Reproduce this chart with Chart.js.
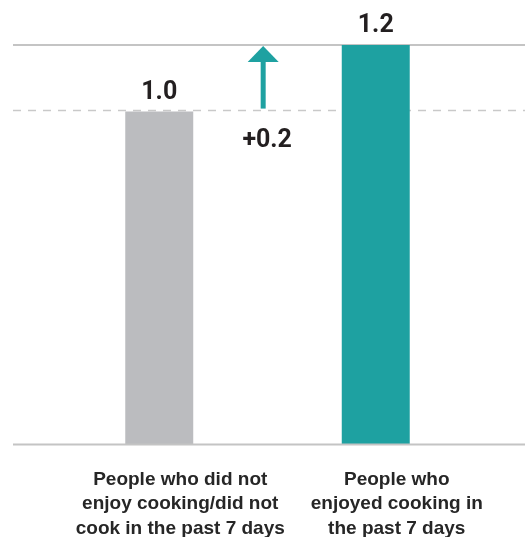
<!DOCTYPE html>
<html>
<head>
<meta charset="utf-8">
<script src="https://cdn.jsdelivr.net/npm/chart.js@4/dist/chart.umd.min.js"></script>
<style>
html,body{margin:0;padding:0;background:#fff;}
#wrap{width:525px;height:537px;position:relative;}
</style>
</head>
<body>
<div id="wrap"><canvas id="c"></canvas></div>
<script>
const categories = [
  ["People who did not", "enjoy cooking/did not", "cook in the past 7 days"],
  ["People who", "enjoyed cooking in", "the past 7 days"]
];
const values = [1.0, 1.2];
const barColors = ["#bbbcbf", "#1ea1a1"];
const valueLabels = ["1.0", "1.2"];
const changeLabel = "+0.2";

const TEXT = "#231f20";
const TEAL = "#1ea1a1";

const decor = {
  id: "decor",
  beforeDatasetsDraw(chart) {
    const ctx = chart.ctx, y = chart.scales.y, a = chart.chartArea;
    const left = a.left - 38, right = chart.width;
    ctx.save();
    ctx.strokeStyle = "#c9c9c9";
    ctx.lineWidth = 1.5;
    ctx.setLineDash([8, 7]);
    const yd = Math.round(y.getPixelForValue(values[0])) - 1.5;
    ctx.beginPath(); ctx.moveTo(left, yd); ctx.lineTo(right, yd); ctx.stroke();
    ctx.setLineDash([]);
    ctx.strokeStyle = "#c4c4c4";
    ctx.lineWidth = 2;
    const yt = y.getPixelForValue(values[1]);
    ctx.beginPath(); ctx.moveTo(left, yt); ctx.lineTo(right, yt); ctx.stroke();
    ctx.restore();
  },
  afterDatasetsDraw(chart) {
    const ctx = chart.ctx, y = chart.scales.y, x = chart.scales.x, a = chart.chartArea;
    const left = a.left - 38, right = chart.width;
    ctx.save();
    ctx.strokeStyle = "#c4c4c4";
    ctx.lineWidth = 2;
    const yb = y.getPixelForValue(0);
    ctx.beginPath(); ctx.moveTo(left, yb); ctx.lineTo(right, yb); ctx.stroke();
    ctx.fillStyle = TEXT;
    ctx.font = "bold 25px Roboto, 'Liberation Sans', sans-serif";
    ctx.textAlign = "center";
    ctx.textBaseline = "alphabetic";
    const meta = chart.getDatasetMeta(0);
    meta.data.forEach((bar, i) => {
      ctx.fillText(valueLabels[i], bar.x, bar.y - 13);
    });
    const x0 = x.getPixelForValue(0), x1 = x.getPixelForValue(1);
    const ax = x0 + 0.48 * (x1 - x0);
    const yLow = y.getPixelForValue(values[0]) - 3;
    const yHigh = y.getPixelForValue(values[1]);
    const headH = 17, headW = 31, shaftW = 5;
    ctx.fillStyle = TEAL;
    ctx.fillRect(ax - shaftW / 2, yHigh + headH - 1, shaftW, yLow - (yHigh + headH - 1));
    ctx.beginPath();
    ctx.moveTo(ax, yHigh + 1);
    ctx.lineTo(ax + headW / 2, yHigh + headH);
    ctx.lineTo(ax - headW / 2, yHigh + headH);
    ctx.closePath();
    ctx.fill();
    ctx.fillStyle = TEXT;
    ctx.fillText(changeLabel, ax + 4, y.getPixelForValue(values[0]) + 35);
    ctx.restore();
  }
};

new Chart(document.getElementById("c"), {
  type: "bar",
  data: {
    labels: categories,
    datasets: [{
      data: values,
      backgroundColor: barColors,
      borderWidth: 0,
      categoryPercentage: 1,
      barPercentage: 0.314
    }]
  },
  options: {
    responsive: true,
    maintainAspectRatio: false,
    animation: false,
    devicePixelRatio: 1,
    layout: { padding: { left: 51, right: 41, top: 45, bottom: 0 } },
    plugins: { legend: { display: false }, tooltip: { enabled: false } },
    scales: {
      x: {
        grid: { display: false, drawTicks: false },
        border: { display: false },
        ticks: {
          color: "#262626",
          font: { family: "'Liberation Sans', Arial, sans-serif", size: 19, weight: "bold", lineHeight: 1.29 },
          padding: 23,
          labelOffset: 21,
          maxRotation: 0,
          autoSkip: false
        },
        afterFit(scale) { scale.height = 92.5; }
      },
      y: {
        display: false,
        min: 0,
        max: 1.2
      }
    }
  },
  plugins: [decor]
});
</script>
</body>
</html>
